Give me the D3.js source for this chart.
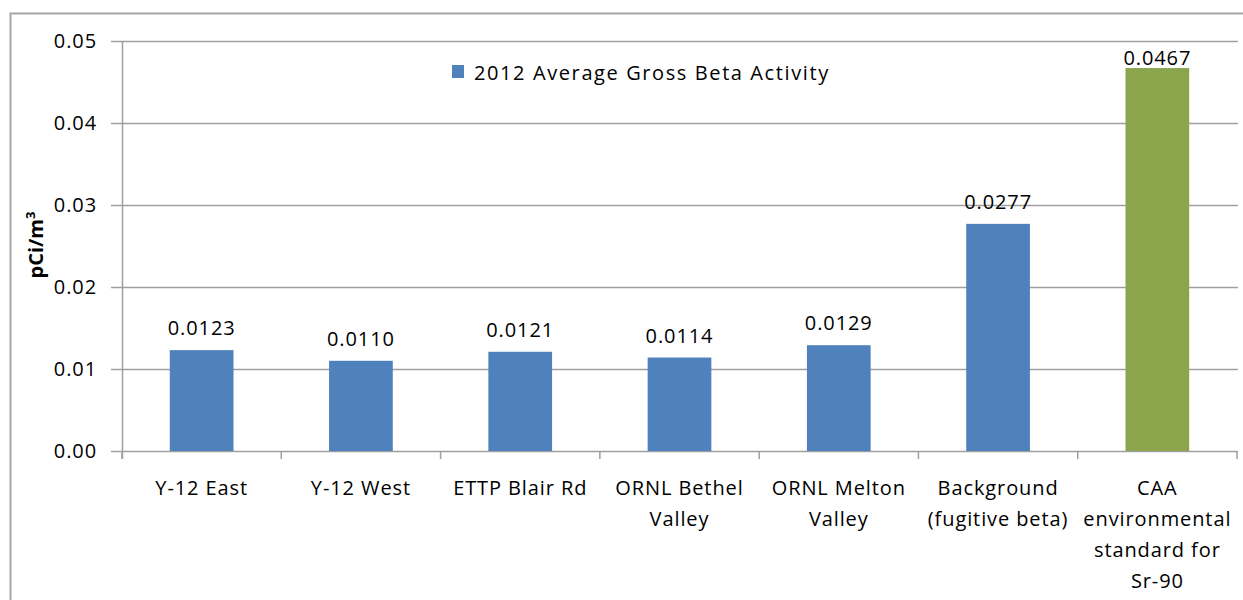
<!DOCTYPE html>
<html>
<head>
<meta charset="utf-8">
<script src="https://cdn.jsdelivr.net/npm/d3@7"></script>
<style>
    body { margin: 0; background: #fff; }
    svg { display: block; font-family: "Open Sans", "Noto Sans", sans-serif; }
</style>
</head>
<body>
<svg></svg>
<script>
const categories = [
    ["Y-12 East"],
    ["Y-12 West"],
    ["ETTP Blair Rd"],
    ["ORNL Bethel", "Valley"],
    ["ORNL Melton", "Valley"],
    ["Background", "(fugitive beta)"],
    ["CAA", "environmental", "standard for", "Sr-90"]
];
const values = [0.0123, 0.0110, 0.0121, 0.0114, 0.0129, 0.0277, 0.0467];
const valueLabels = ["0.0123", "0.0110", "0.0121", "0.0114", "0.0129", "0.0277", "0.0467"];
const barColors = ["#4f81bd", "#4f81bd", "#4f81bd", "#4f81bd", "#4f81bd", "#4f81bd", "#8aa54b"];
const yTicks = [0, 0.01, 0.02, 0.03, 0.04, 0.05];
const yTickLabels = ["0.00", "0.01", "0.02", "0.03", "0.04", "0.05"];
const legendLabel = "2012 Average Gross Beta Activity";

const width = 1243, height = 600;
const margin = { left: 122, right: 5, top: 41, bottom: 149 };
const fontSize = 20;
const spacing = 0.9;
const svg = d3.select("svg").attr("width", width).attr("height", height);

// outer chart border
svg.append("rect")
    .attr("x", 10.5).attr("y", 13.5)
    .attr("width", 1260).attr("height", 620)
    .attr("fill", "none").attr("stroke", "#a6a6a6").attr("stroke-width", 2);

const x = d3.scaleBand()
    .domain(d3.range(categories.length))
    .range([margin.left, 1237])
    .paddingInner(0.6).paddingOuter(0.3);
const y = d3.scaleLinear().domain([0, 0.05]).range([height - margin.bottom, margin.top]);

// gridlines
svg.append("g").attr("class", "grid")
    .selectAll("line").data(yTicks).enter().append("line")
    .attr("x1", margin.left - 11).attr("x2", 1238)
    .attr("y1", d => Math.round(y(d)) + 0.5).attr("y2", d => Math.round(y(d)) + 0.5)
    .attr("stroke", "#9f9f9f").attr("stroke-width", 1.5);

// y axis line
svg.append("line")
    .attr("x1", margin.left + 0.5).attr("x2", margin.left + 0.5)
    .attr("y1", y(0.05)).attr("y2", y(0) + 8)
    .attr("stroke", "#9f9f9f").attr("stroke-width", 1.5);

// y tick labels
svg.append("g").selectAll("text").data(yTicks).enter().append("text")
    .attr("x", 97).attr("y", d => y(d) + 7)
    .attr("text-anchor", "end").attr("font-size", fontSize).attr("letter-spacing", spacing).attr("fill", "#000")
    .text((d, i) => yTickLabels[i]);

// x category ticks
const bandEdges = d3.range(categories.length + 1).map(i => margin.left + i * (1237 - margin.left) / categories.length);
svg.append("g").selectAll("line").data(bandEdges).enter().append("line")
    .attr("x1", d => d).attr("x2", d => d)
    .attr("y1", y(0)).attr("y2", y(0) + 8)
    .attr("stroke", "#9f9f9f").attr("stroke-width", 1.5);

// bars
svg.append("g").attr("class", "bars")
    .selectAll("rect").data(values).enter().append("rect")
    .attr("x", (d, i) => x(i))
    .attr("y", d => y(d))
    .attr("width", x.bandwidth())
    .attr("height", d => y(0) - y(d))
    .attr("fill", (d, i) => barColors[i]);

// value labels
svg.append("g").selectAll("text").data(values).enter().append("text")
    .attr("x", (d, i) => x(i) + x.bandwidth() / 2)
    .attr("y", (d, i) => i === 6 ? y(d) - 3 : y(d) - 15)
    .attr("text-anchor", "middle").attr("font-size", fontSize).attr("letter-spacing", spacing).attr("fill", "#000")
    .text((d, i) => valueLabels[i]);

// category labels
const catG = svg.append("g").selectAll("text").data(categories).enter().append("text")
    .attr("text-anchor", "middle").attr("font-size", fontSize).attr("letter-spacing", spacing).attr("fill", "#000");
catG.selectAll("tspan").data((d, i) => d.map(t => ({ t: t, i: i }))).enter().append("tspan")
    .attr("x", d => x(d.i) + x.bandwidth() / 2)
    .attr("y", (d, j) => 495 + j * 31)
    .text(d => d.t);

// y axis title
const yTitle = svg.append("text")
    .attr("transform", "translate(43,245) rotate(-90)")
    .attr("text-anchor", "middle").attr("font-size", fontSize).attr("font-weight", "bold");
yTitle.append("tspan").text("pCi/m");
yTitle.append("tspan").attr("font-size", 13).attr("dy", -8).text("3");

// legend
const legend = svg.append("g");
legend.append("rect").attr("x", 452).attr("y", 65).attr("width", 12).attr("height", 13).attr("fill", barColors[0]);
legend.append("text").attr("x", 474).attr("y", 80).attr("font-size", fontSize).attr("letter-spacing", 1.6).text(legendLabel);
</script>
</body>
</html>
